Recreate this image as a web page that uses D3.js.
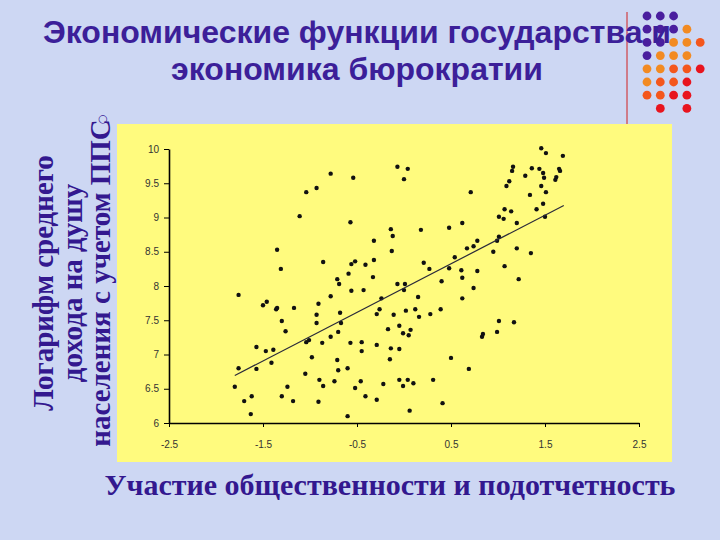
<!DOCTYPE html>
<html>
<head>
<meta charset="utf-8">
<script src="https://cdn.jsdelivr.net/npm/d3@7"></script>
<style>
  body { margin: 0; background: #cdd7f3; }
  svg { display: block; }
</style>
</head>
<body>
<script>
var width = 720,
    height = 540;

// title and axis captions
var titleLines = ["Экономические функции государства и", "экономика бюрократии"];
var yLabelLines = ["Логарифм среднего", "дохода на душу", "населения с учетом ППС"];
var xLabel = "Участие общественности и подотчетность";

var xTicks = [-2.5, -1.5, -0.5, 0.5, 1.5, 2.5];
var yTicks = [6, 6.5, 7, 7.5, 8, 8.5, 9, 9.5, 10];

// voice & accountability (x) vs log income per capita PPP (y)
var voice = [
 -1.04,-1.11,-1.35,-1.31,-0.78,-0.54,-0.07,0.04,0.00,-0.93,
  0.71,-0.57,-0.14,-0.12,0.18,0.48,0.62,-0.32,-0.13,0.78,
  0.74,0.67,-0.86,-0.56,-0.52,-0.41,-0.32,0.21,0.27,0.48,
  0.54,0.61,0.78,0.62,-0.71,-0.69,-0.59,-0.33,-0.07,0.01,
  0.40,0.74,-0.56,-0.43,0.00,1.46,1.51,1.69,1.16,1.15,
  1.36,1.44,1.48,1.49,1.29,1.65,1.66,1.62,1.61,1.12,
  1.09,1.46,1.51,1.34,1.07,1.14,1.41,1.48,1.01,1.06,
  1.20,1.50,1.01,0.99,1.20,0.95,1.35,1.07,1.22,-1.76,
 -1.50,-1.46,-1.36,-1.35,-1.17,-1.30,-1.26,-1.57,-1.47,-1.39,
 -1.41,-1.76,-1.57,-1.04,-1.01,-1.05,-1.80,-1.62,-1.70,-1.24,
 -1.30,-1.18,-1.63,-0.78,-0.24,0.15,0.62,-0.91,-0.93,-0.93,
 -0.68,-0.67,-0.26,-0.29,-0.11,0.02,0.12,0.16,0.28,0.39,
 -0.17,-0.05,-0.01,0.07,0.05,-0.70,-0.78,-0.87,-0.57,-0.45,
 -0.45,-0.29,-0.14,-0.05,-0.98,-0.71,-0.15,-0.70,-0.60,0.50,
  0.69,-0.90,-0.86,-0.74,-0.46,-0.52,-0.41,-0.22,-0.29,-0.05,
 -0.01,0.04,0.10,0.31,-0.91,0.41,0.06,-0.60,1.01,1.17,
  0.99,0.84,0.83
];
var logIncome = [
  9.37,9.02,8.53,8.25,9.64,9.58,9.74,9.71,9.56,9.43,
  9.37,8.93,8.83,8.73,8.82,8.85,8.92,8.66,8.51,8.66,
  8.58,8.55,8.35,8.32,8.36,8.31,8.38,8.34,8.25,8.26,
  8.42,8.23,8.22,8.12,8.10,8.03,8.18,8.13,8.03,8.03,
  8.07,7.97,7.93,7.94,7.94,10.01,9.94,9.90,9.74,9.68,
  9.72,9.71,9.65,9.58,9.61,9.71,9.68,9.59,9.55,9.53,
  9.46,9.46,9.37,9.33,9.12,9.09,9.12,9.20,9.01,8.98,
  8.92,9.01,8.72,8.66,8.55,8.50,8.48,8.29,8.10,7.87,
  7.72,7.77,7.66,7.68,7.68,7.49,7.34,7.11,7.05,7.07,
  6.88,6.80,6.79,7.18,7.21,6.72,6.53,6.39,6.32,6.53,
  6.39,6.32,6.13,7.85,7.82,7.84,7.82,7.74,7.58,7.46,
  7.61,7.46,7.66,7.59,7.58,7.64,7.66,7.55,7.59,7.66,
  7.37,7.42,7.31,7.36,7.28,7.33,7.26,7.17,7.17,7.18,
  7.05,7.14,7.09,7.08,6.96,6.92,6.93,6.77,6.80,6.95,
  6.79,6.63,6.54,6.61,6.61,6.51,6.39,6.57,6.34,6.63,
  6.54,6.63,6.58,6.63,6.31,6.29,6.18,6.10,7.49,7.47,
  7.33,7.30,7.26
];

// trend line as drawn in the picture
var fitSlope = 0.709,
    fitIntercept = 7.97,
    fitRange = [-1.8, 1.7];

// corner decoration: p purple, o orange, d dark orange, r red, . empty
var dotRows = ["ppp..", "pppo.", "ppood", "pooo.", "ooddr", "oddr.", "ddrr.", ".r.r."];
var dotColors = { p: "#4a1e9e", o: "#f28a22", d: "#f4561c", r: "#e8141e" };

var svg = d3.select("body").append("svg")
    .attr("width", width)
    .attr("height", height);

svg.append("rect")
    .attr("width", width)
    .attr("height", height)
    .attr("fill", "#cdd7f3");

// decoration
svg.append("line")
    .attr("x1", 627).attr("x2", 627)
    .attr("y1", 12).attr("y2", 125)
    .attr("stroke", "#d02020")
    .attr("stroke-width", 1);

dotRows.forEach(function(row, i){
  row.split("").forEach(function(c, j){
    if (c === ".") return;
    svg.append("circle")
        .attr("cx", 647 + j * 13.3)
        .attr("cy", 16 + i * 13.2)
        .attr("r", 4.4)
        .attr("fill", dotColors[c]);
  });
});

svg.selectAll(".title")
    .data(titleLines)
  .enter().append("text")
    .attr("class", "title")
    .attr("x", 357)
    .attr("y", function(d, i){ return 43 + i * 37; })
    .attr("text-anchor", "middle")
    .style("font-family", "'Liberation Sans', Arial, sans-serif")
    .style("font-weight", "bold")
    .style("font-size", "32px")
    .style("fill", "#3c1f99")
    .text(function(d){ return d; });

// small bullet left over from the slide
svg.append("text")
    .attr("x", 103)
    .attr("y", 122)
    .attr("text-anchor", "middle")
    .style("font-family", "'DejaVu Sans', sans-serif")
    .style("font-size", "11px")
    .style("fill", "#3c1f99")
    .text("○");

// chart panel
svg.append("rect")
    .attr("x", 117).attr("y", 124)
    .attr("width", 555).attr("height", 338)
    .attr("fill", "#fffb7e");

var x = d3.scaleLinear().domain([-2.5, 2.5]).range([169, 639]);
var y = d3.scaleLinear().domain([6, 10]).range([423, 149]);

var gx = svg.append("g")
    .attr("transform", "translate(0,423)")
    .call(d3.axisBottom(x).tickValues(xTicks).tickSize(4).tickSizeOuter(0)
      .tickPadding(14).tickFormat(function(d){ return String(d); }));

var gy = svg.append("g")
    .attr("transform", "translate(169,0)")
    .call(d3.axisLeft(y).tickValues(yTicks).tickSize(5).tickSizeOuter(0)
      .tickPadding(5).tickFormat(function(d){ return String(d); }));

[gx, gy].forEach(function(g){
  g.select(".domain").attr("stroke", "#000").attr("stroke-width", 1.6);
  g.selectAll(".tick line").attr("stroke", "#000").attr("stroke-width", 1);
  g.selectAll(".tick text")
      .style("font-family", "'Liberation Sans', Arial, sans-serif")
      .style("font-size", "10px")
      .style("fill", "#333");
});

var points = voice.map(function(v, i){ return [v, logIncome[i]]; });

svg.selectAll(".pt")
    .data(points)
  .enter().append("circle")
    .attr("class", "pt")
    .attr("cx", function(d){ return x(d[0]); })
    .attr("cy", function(d){ return y(d[1]); })
    .attr("r", 2.2)
    .attr("fill", "#111");

svg.append("line")
    .attr("x1", x(fitRange[0])).attr("y1", y(fitIntercept + fitSlope * fitRange[0]))
    .attr("x2", x(fitRange[1])).attr("y2", y(fitIntercept + fitSlope * fitRange[1]))
    .attr("stroke", "#2a2a3a")
    .attr("stroke-width", 1.2);

// axis captions
svg.append("text")
    .attr("x", 390)
    .attr("y", 495)
    .attr("text-anchor", "middle")
    .style("font-family", "'Liberation Serif', 'Times New Roman', serif")
    .style("font-weight", "bold")
    .style("font-size", "30px")
    .style("fill", "#33188f")
    .text(xLabel);

svg.selectAll(".ylab")
    .data(yLabelLines)
  .enter().append("text")
    .attr("class", "ylab")
    .attr("transform", function(d, i){ return "translate(" + (53 + i * 28.5) + ",283) rotate(-90)"; })
    .attr("text-anchor", "middle")
    .style("font-family", "'Liberation Serif', 'Times New Roman', serif")
    .style("font-weight", "bold")
    .style("font-size", "29px")
    .style("fill", "#33188f")
    .text(function(d){ return d; });
</script>
</body>
</html>
